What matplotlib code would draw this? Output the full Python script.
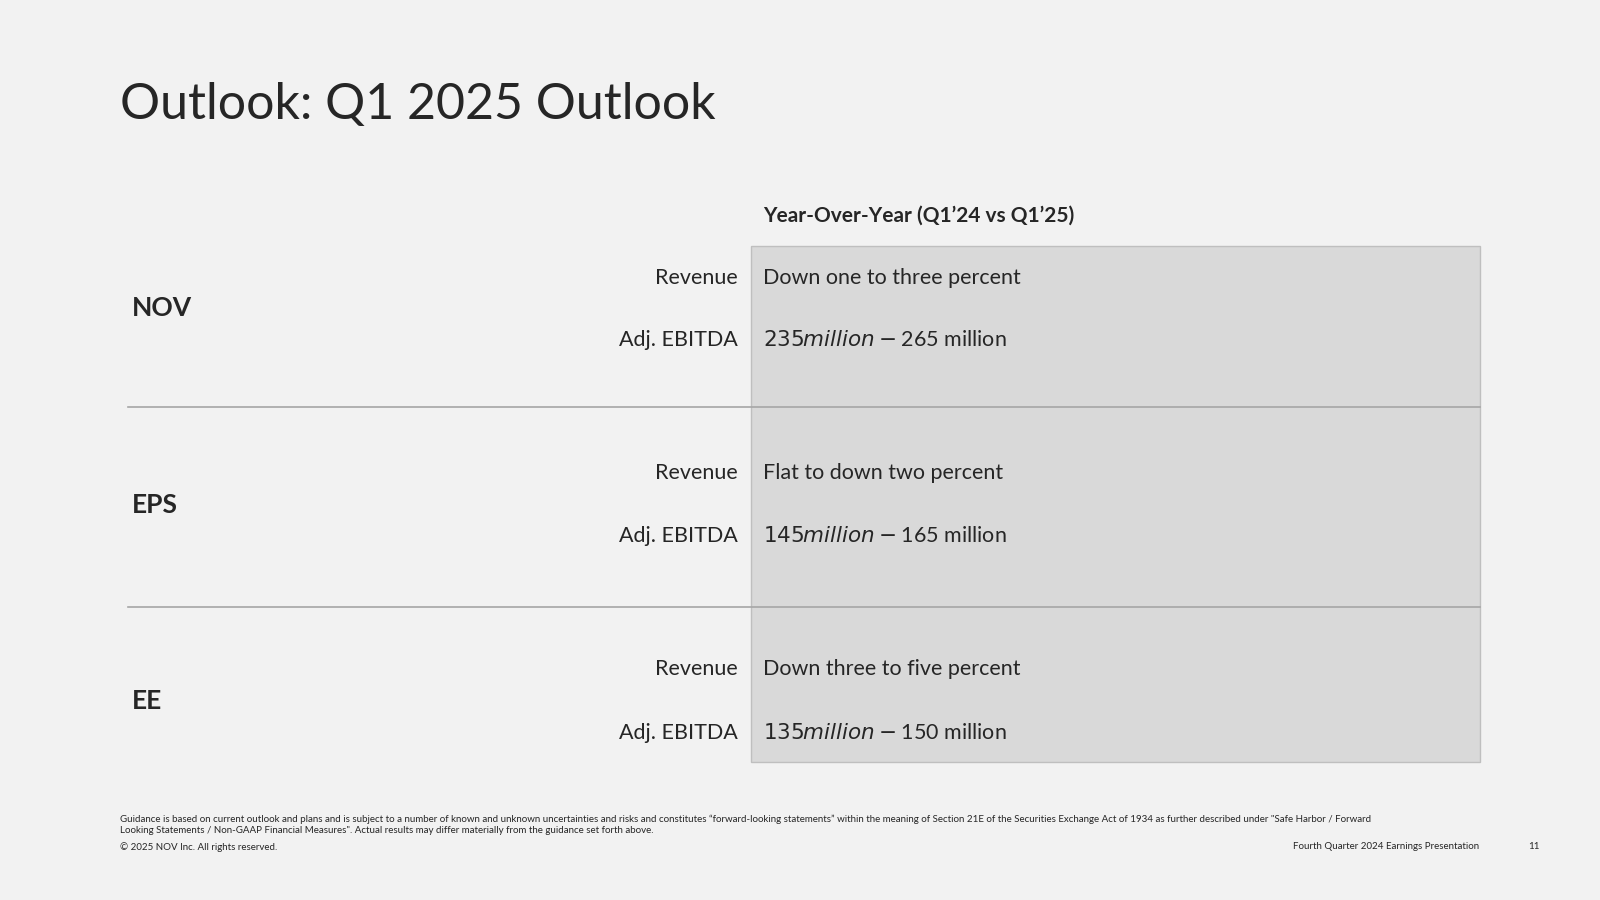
import matplotlib
matplotlib.use('Agg')
import matplotlib.pyplot as plt
from matplotlib.patches import Rectangle

plt.rcParams['font.family'] = 'Lato'

title = "Outlook: Q1 2025 Outlook"
column_header = "Year-Over-Year (Q1\u201924 vs Q1\u201925)"
segments = ["NOV", "EPS", "EE"]
metrics = ["Revenue", "Adj. EBITDA"]
guidance = [
    ["Down one to three percent", "$235 million - $265 million"],
    ["Flat to down two percent", "$145 million - $165 million"],
    ["Down three to five percent", "$135 million - $150 million"],
]
footnote = ("Guidance is based on current outlook and plans and is subject to a number of known and unknown uncertainties and risks and constitutes \u201cforward-looking statements\u201d within the meaning of Section 21E of the Securities Exchange Act of 1934 as further described under \"Safe Harbor / Forward\n"
            "Looking Statements / Non-GAAP Financial Measures\". Actual results may differ materially from the guidance set forth above.")
copyright_text = "\u00a9 2025 NOV Inc. All rights reserved."
footer_right = "Fourth Quarter 2024 Earnings Presentation"
page_no = "11"

W, H = 1568, 882
fig = plt.figure(figsize=(16, 9), dpi=100, facecolor='#f2f2f2')
ax = fig.add_axes([0, 0, 1, 1])
ax.set_xlim(0, W)
ax.set_ylim(H, 0)
ax.axis('off')
ax.set_facecolor('#f2f2f2')

txt = '#262626'
ax.text(118, 103, title, fontsize=36, color=txt, va='center', ha='left')
ax.text(748, 211, column_header, fontsize=15, fontweight='bold', color=txt, va='center')

# grey guidance panel
ax.add_patch(Rectangle((736, 241), 714, 506, facecolor='#d9d9d9', edgecolor='#bfbfbf', lw=1))

row_tops = [241, 399, 595]
row_bottoms = [399, 595, 747]
metric_y = [[272, 333], [464, 525], [656, 718]]
seg_y = [302, 495, 687]

for i, seg in enumerate(segments):
    ax.text(129, seg_y[i], seg, fontsize=19, fontweight='bold', color=txt, va='center')
    for j, m in enumerate(metrics):
        ax.text(723, metric_y[i][j], m, fontsize=15.5, color=txt, va='center', ha='right')
        ax.text(748, metric_y[i][j], guidance[i][j], fontsize=15.5, color=txt, va='center', ha='left')

for y in row_tops[1:]:
    ax.plot([125, 1450], [y, y], color='#a6a6a6', lw=1.2)

ax.text(118, 808, footnote, fontsize=7, color=txt, va='center', ha='left', linespacing=1.3)
ax.text(118, 830, copyright_text, fontsize=7, color=txt, va='center')
ax.text(1450, 830, footer_right, fontsize=7, color=txt, va='center', ha='right')
ax.text(1509, 830, page_no, fontsize=7, color=txt, va='center', ha='right')

fig.savefig('out.png', dpi=100, facecolor=fig.get_facecolor())
